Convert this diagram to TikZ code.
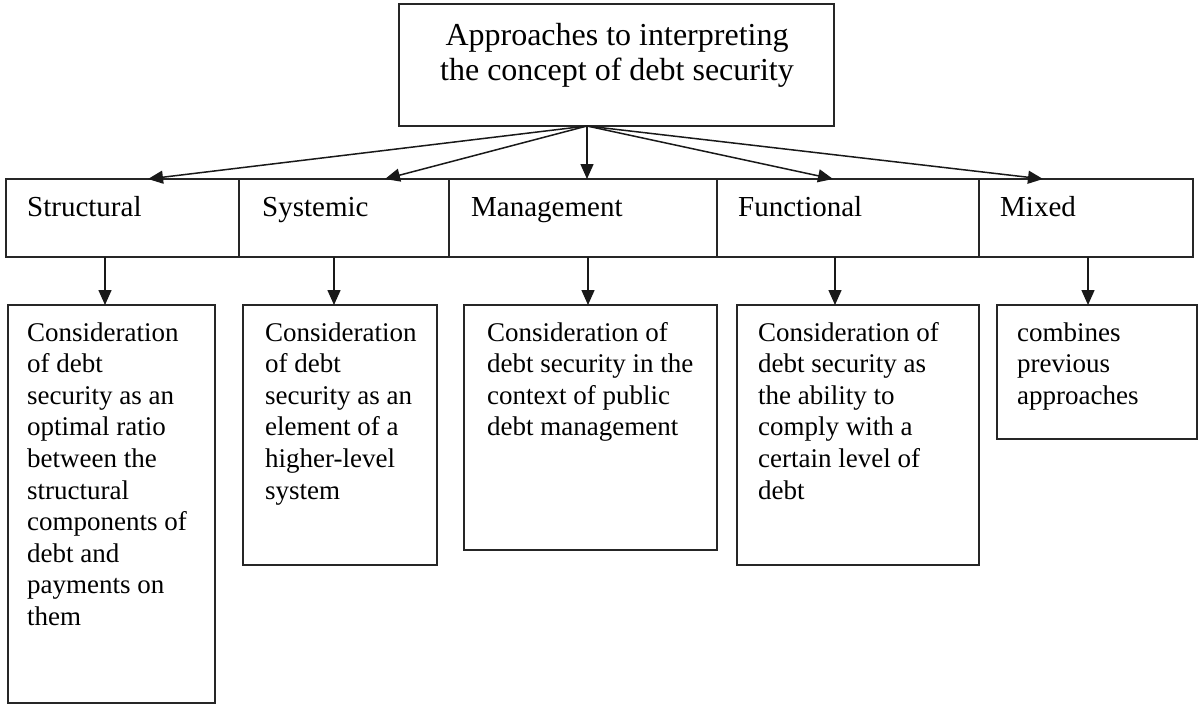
\documentclass[tikz,border=0pt]{standalone}
\usepackage{fontspec}
\setmainfont{Liberation Serif}
\usetikzlibrary{arrows.meta}
\newcommand{\mylines}[1]{\begin{tabular}[t]{@{}l@{}}#1\end{tabular}}
\newcommand{\mycenter}[1]{\begin{tabular}[t]{@{}c@{}}#1\end{tabular}}
\begin{document}
\begin{tikzpicture}[x=1pt,y=-1pt,
  box/.style={draw=black!85, line width=1.6pt, inner sep=0pt, outer sep=0pt, anchor=north west},
  lbl/.style={inner sep=0pt, anchor=base west, font=\fontsize{29}{33}\selectfont},
  desc/.style={inner sep=0pt, anchor=base west, font=\fontsize{27}{31.6}\selectfont},
  ttl/.style={inner sep=0pt, anchor=base, font=\fontsize{32}{35}\selectfont},
  arr/.style={draw=black!90, line width=1.5pt, -{Triangle[length=15pt,width=13pt]}}]
\useasboundingbox[fill=white] (0,0) rectangle (1199,706);

% top box
\node[box, minimum width=435pt, minimum height=122pt] (top) at (399,4) {};
\node[ttl] (toptext) at (617,46) {\mycenter{Approaches to interpreting\\the concept of debt security}};

% row boxes
\node[box, minimum width=233pt, minimum height=78pt] (s1) at (6,179) {};
\node[box, minimum width=210pt, minimum height=78pt] (s2) at (239,179) {};
\node[box, minimum width=268pt, minimum height=78pt] (s3) at (449,179) {};
\node[box, minimum width=262pt, minimum height=78pt] (s4) at (717,179) {};
\node[box, minimum width=214pt, minimum height=78pt] (s5) at (979,179) {};
\node[lbl] (l1) at (27,216) {Structural};
\node[lbl] (l2) at (262,216) {Systemic};
\node[lbl] (l3) at (471,216) {Management};
\node[lbl] (l4) at (738,216) {Functional};
\node[lbl] (l5) at (1000,216) {Mixed};

% description boxes
\node[box, minimum width=207pt, minimum height=398pt] (d1) at (8,305) {};
\node[box, minimum width=194pt, minimum height=260pt] (d2) at (243,305) {};
\node[box, minimum width=253pt, minimum height=245pt] (d3) at (464,305) {};
\node[box, minimum width=242pt, minimum height=260pt] (d4) at (737,305) {};
\node[box, minimum width=200pt, minimum height=134pt] (d5) at (997,305) {};

\node[desc] (t1) at (27,341) {\mylines{Consideration\\of debt\\security as an\\optimal ratio\\between the\\structural\\components of\\debt and\\payments on\\them}};
\node[desc] (t2) at (265,341) {\mylines{Consideration\\of debt\\security as an\\element of a\\higher-level\\system}};
\node[desc] (t3) at (487,341) {\mylines{Consideration of\\debt security in the\\context of public\\debt management}};
\node[desc] (t4) at (758,341) {\mylines{Consideration of\\debt security as\\the ability to\\comply with a\\certain level of\\debt}};
\node[desc] (t5) at (1017,341) {\mylines{combines\\previous\\approaches}};

% arrows from top box
\coordinate (src) at (587,126);
\draw[arr] (src) -- ([xshift=142pt]s1.north west);
\draw[arr] (src) -- ([xshift=146pt]s2.north west);
\draw[arr] (src) -- ([xshift=138pt]s3.north west);
\draw[arr] (src) -- ([xshift=116pt]s4.north west);
\draw[arr] (src) -- ([xshift=64pt]s5.north west);

% vertical arrows
\coordinate (x1) at (105,0);
\coordinate (x2) at (334,0);
\coordinate (x3) at (588,0);
\coordinate (x4) at (835,0);
\coordinate (x5) at (1088,0);
\draw[arr] (s1.south -| x1) -- (d1.north -| x1);
\draw[arr] (s2.south -| x2) -- (d2.north -| x2);
\draw[arr] (s3.south -| x3) -- (d3.north -| x3);
\draw[arr] (s4.south -| x4) -- (d4.north -| x4);
\draw[arr] (s5.south -| x5) -- (d5.north -| x5);
\end{tikzpicture}
\end{document}
